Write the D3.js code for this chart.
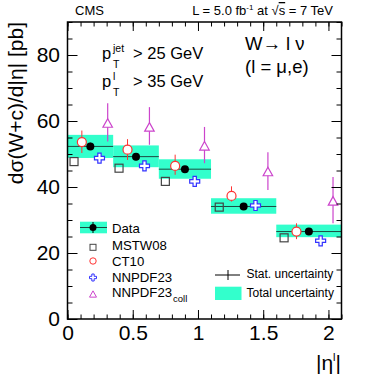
<!DOCTYPE html>
<html>
<head>
<meta charset="utf-8">
<script src="https://cdn.jsdelivr.net/npm/d3@7"></script>
<style>
body { margin: 0; background: #fff; }
text { font-family: "Liberation Sans", Arial, sans-serif; }
</style>
</head>
<body>
<div id="chart"></div>
<script>

// bins in |eta|
var binLo = [0, 0.35, 0.7, 1.1, 1.6];
var binHi = [0.35, 0.7, 1.1, 1.6, 2.1];

// measured
var dataX = [0.175, 0.525, 0.9, 1.35, 1.85];
var dataY = [52.3, 49.2, 45.4, 34.1, 26.5];
var dataStat = [1.1, 1.1, 1.0, 0.9, 0.8];
var totLo = [48.8, 46.0, 42.5, 31.9, 24.8];
var totHi = [55.8, 52.6, 48.4, 36.6, 28.6];

// predictions
var mstwX = [0.05, 0.395, 0.75, 1.163, 1.66];
var mstwY = [47.7, 45.7, 41.7, 33.9, 24.6];
var ct10X = [0.11, 0.46, 0.825, 1.257, 1.755];
var ct10Y = [53.6, 51.3, 46.4, 37.3, 26.5];
var ct10Lo = [50.3, 48.2, 43.7, 35.6, 24.2];
var ct10Hi = [57.1, 54.5, 49.8, 40.2, 29.0];
var nnX = [0.245, 0.59, 0.975, 1.441, 1.94];
var nnY = [48.75, 46.4, 41.7, 34.4, 23.7];
var collX = [0.308, 0.628, 1.05, 1.536, 2.035];
var collY = [59.4, 58.2, 52.5, 44.7, 35.8];
var collLo = [53.8, 52.8, 47.2, 39.1, 29.0];
var collHi = [65.4, 64.2, 58.2, 50.5, 43.0];

var xTicks = [0, 0.5, 1, 1.5, 2];
var yTicks = [0, 20, 40, 60, 80];

var W = 374, H = 379;
var L = 67.5, R = 341.5, T = 22, B = 319;

var teal = "#33ffcc", red = "#ff3333", blue = "#3333ff", mag = "#cc44cc", grey = "#444444";

var svg = d3.select("#chart").append("svg")
    .attr("width", W).attr("height", H);

var x = d3.scaleLinear().domain([0, 2.1]).range([L, R]);
var y = d3.scaleLinear().domain([0, 90]).range([B, T]);

var idx = d3.range(binLo.length);

// total uncertainty bands
svg.selectAll(".band").data(idx).enter().append("rect")
    .attr("x", i => x(binLo[i]))
    .attr("width", i => x(binHi[i]) - x(binLo[i]))
    .attr("y", i => y(totHi[i]))
    .attr("height", i => y(totLo[i]) - y(totHi[i]))
    .attr("fill", teal);

svg.selectAll(".bline").data(idx).enter().append("line")
    .attr("x1", i => x(binLo[i])).attr("x2", i => x(binHi[i]))
    .attr("y1", i => y(dataY[i])).attr("y2", i => y(dataY[i]))
    .attr("stroke", "#1d4a40").attr("stroke-width", 1);

// marker shapes
function crossPath(s) {
    var a = s / 2, b = s / 6;
    return "M" + (-b) + "," + (-a) + "H" + b + "V" + (-b) + "H" + a + "V" + b + "H" + b + "V" + a +
        "H" + (-b) + "V" + b + "H" + (-a) + "V" + (-b) + "H" + (-b) + "Z";
}
function triPath(s) {
    var h = s * 0.9;
    return "M0," + (-h / 2) + "L" + (s / 2) + "," + (h / 2) + "L" + (-s / 2) + "," + (h / 2) + "Z";
}

// MSTW08
svg.selectAll(".mstw").data(idx).enter().append("rect")
    .attr("x", i => x(mstwX[i]) - 4).attr("y", i => y(mstwY[i]) - 4)
    .attr("width", 8).attr("height", 8)
    .attr("fill", "none").attr("stroke", grey).attr("stroke-width", 1.2);

// CT10
svg.selectAll(".cterr").data(idx).enter().append("line")
    .attr("x1", i => x(ct10X[i])).attr("x2", i => x(ct10X[i]))
    .attr("y1", i => y(ct10Hi[i])).attr("y2", i => y(ct10Lo[i]))
    .attr("stroke", red).attr("stroke-width", 1);
svg.selectAll(".ct").data(idx).enter().append("circle")
    .attr("cx", i => x(ct10X[i])).attr("cy", i => y(ct10Y[i])).attr("r", 4.5)
    .attr("fill", "#fff").attr("stroke", red).attr("stroke-width", 1.2);

// NNPDF23
svg.selectAll(".nn").data(idx).enter().append("path")
    .attr("d", crossPath(10))
    .attr("transform", i => "translate(" + x(nnX[i]) + "," + y(nnY[i]) + ")")
    .attr("fill", "#fff").attr("stroke", blue).attr("stroke-width", 1.2);

// NNPDF23 coll
svg.selectAll(".collerr").data(idx).enter().append("line")
    .attr("x1", i => x(collX[i])).attr("x2", i => x(collX[i]))
    .attr("y1", i => y(collHi[i])).attr("y2", i => y(collLo[i]))
    .attr("stroke", mag).attr("stroke-width", 1.2);
svg.selectAll(".coll").data(idx).enter().append("path")
    .attr("d", triPath(9.5))
    .attr("transform", i => "translate(" + x(collX[i]) + "," + y(collY[i]) + ")")
    .attr("fill", "#fff").attr("stroke", mag).attr("stroke-width", 1.2);

// data
svg.selectAll(".derr").data(idx).enter().append("line")
    .attr("x1", i => x(dataX[i])).attr("x2", i => x(dataX[i]))
    .attr("y1", i => y(dataY[i] + dataStat[i])).attr("y2", i => y(dataY[i] - dataStat[i]))
    .attr("stroke", "#000").attr("stroke-width", 1.2);
svg.selectAll(".dpt").data(idx).enter().append("circle")
    .attr("cx", i => x(dataX[i])).attr("cy", i => y(dataY[i])).attr("r", 4)
    .attr("fill", "#000");

// axes, ticks inward on all sides
var xMinor = d3.range(0, 2.101, 0.1).map(v => +v.toFixed(2));
var yMinor = d3.range(0, 90.1, 5);

function axisG(axis, tr) {
    var g = svg.append("g").attr("transform", tr).call(axis);
    g.select(".domain").remove();
    g.selectAll("line").attr("stroke", "#000").attr("stroke-width", 1);
    return g;
}

axisG(d3.axisBottom(x).tickValues(xMinor).tickSize(-4.5).tickFormat(""), "translate(0," + B + ")");
axisG(d3.axisTop(x).tickValues(xMinor).tickSize(-4.5).tickFormat(""), "translate(0," + T + ")");
axisG(d3.axisTop(x).tickValues(xTicks).tickSize(-9).tickFormat(""), "translate(0," + T + ")");
var gx = axisG(d3.axisBottom(x).tickValues(xTicks).tickSize(-9).tickPadding(6).tickFormat(d3.format("")),
    "translate(0," + B + ")");
gx.selectAll("text").attr("font-size", 21).attr("font-family", "Liberation Sans, Arial, sans-serif")
    .attr("fill", "#000");

axisG(d3.axisLeft(y).tickValues(yMinor).tickSize(-5).tickFormat(""), "translate(" + L + ",0)");
axisG(d3.axisRight(y).tickValues(yMinor).tickSize(-5).tickFormat(""), "translate(" + R + ",0)");
axisG(d3.axisRight(y).tickValues(yTicks).tickSize(-10).tickFormat(""), "translate(" + R + ",0)");
var gy = axisG(d3.axisLeft(y).tickValues(yTicks).tickSize(-10).tickPadding(7.5), "translate(" + L + ",0)");
gy.selectAll("text").attr("font-size", 21).attr("font-family", "Liberation Sans, Arial, sans-serif")
    .attr("fill", "#000");

svg.append("rect")
    .attr("x", L).attr("y", T).attr("width", R - L).attr("height", B - T)
    .attr("fill", "none").attr("stroke", "#000").attr("stroke-width", 1.5);

// axis titles
svg.append("text")
    .attr("transform", "translate(23," + T + ") rotate(-90)")
    .attr("text-anchor", "end").attr("font-size", 21)
    .text("dσ(W+c)/d|η| [pb]");

var xt = svg.append("text").attr("x", 341).attr("y", 370)
    .attr("text-anchor", "end").attr("font-size", 21);
xt.append("tspan").text("|η");
xt.append("tspan").attr("font-size", 11).attr("dy", -9).text("l");
xt.append("tspan").attr("dy", 9).text("|");

// header
svg.append("text").attr("x", 75).attr("y", 15).attr("font-size", 13).text("CMS");
var ht = svg.append("text").attr("x", 333).attr("y", 15).attr("text-anchor", "end").attr("font-size", 13);
ht.append("tspan").text("L = 5.0 fb");
ht.append("tspan").attr("font-size", 8).attr("dy", -5).text("-1");
ht.append("tspan").attr("dy", 5).text(" at ");
ht.append("tspan").text("√");
ht.append("tspan").attr("text-decoration", "overline").text("s");
ht.append("tspan").text(" = 7 TeV");

// cut labels
function ptLabel(yb, sup, rest) {
    svg.append("text").attr("x", 102).attr("y", yb).attr("font-size", 16.5).text("p");
    svg.append("text").attr("x", 113).attr("y", yb - 7).attr("font-size", 10.5).text(sup);
    svg.append("text").attr("x", 113).attr("y", yb + 9).attr("font-size", 10.5).text("T");
    svg.append("text").attr("x", 133).attr("y", yb).attr("font-size", 16.5).text(rest);
}
ptLabel(59, "jet", "> 25 GeV");
ptLabel(87, "l", "> 35 GeV");

svg.append("text").attr("x", 245).attr("y", 50).attr("font-size", 18.5).text("W→ l ν");
svg.append("text").attr("x", 245).attr("y", 73).attr("font-size", 18.5).text("(l = μ,e)");

// legend
var lx = 93;
svg.append("rect").attr("x", 80).attr("y", 221.7).attr("width", 27).attr("height", 11.6).attr("fill", teal);
svg.append("line").attr("x1", 80).attr("x2", 107).attr("y1", 227.5).attr("y2", 227.5)
    .attr("stroke", "#1d4a40");
svg.append("line").attr("x1", lx).attr("x2", lx).attr("y1", 222).attr("y2", 233).attr("stroke", "#000");
svg.append("circle").attr("cx", lx).attr("cy", 227.5).attr("r", 3.5).attr("fill", "#000");

svg.append("rect").attr("x", lx - 3).attr("y", 244.3).attr("width", 6).attr("height", 6)
    .attr("fill", "none").attr("stroke", grey);
svg.append("circle").attr("cx", lx).attr("cy", 261).attr("r", 3.2)
    .attr("fill", "none").attr("stroke", red);
svg.append("path").attr("d", crossPath(7)).attr("transform", "translate(" + lx + ",277.5)")
    .attr("fill", "none").attr("stroke", blue);
svg.append("path").attr("d", triPath(7)).attr("transform", "translate(" + lx + ",294)")
    .attr("fill", "none").attr("stroke", mag);

var legNames = ["Data", "MSTW08", "CT10", "NNPDF23", "NNPDF23"];
var legBase = [233.3, 250, 265.7, 282, 296.5];
svg.selectAll(".legt").data(legNames).enter().append("text")
    .attr("x", 112).attr("y", (d, i) => legBase[i]).attr("font-size", 13.2).text(d => d);
svg.append("text").attr("x", 173).attr("y", 302).attr("font-size", 9.5).text("coll");

svg.append("line").attr("x1", 215).attr("x2", 240).attr("y1", 275).attr("y2", 275).attr("stroke", "#000");
svg.append("line").attr("x1", 228).attr("x2", 228).attr("y1", 270).attr("y2", 280).attr("stroke", "#000");
svg.append("text").attr("x", 246.5).attr("y", 278.3).attr("font-size", 12).text("Stat. uncertainty");
svg.append("rect").attr("x", 215).attr("y", 286.7).attr("width", 26.5).attr("height", 13.3).attr("fill", teal);
svg.append("text").attr("x", 246.5).attr("y", 297.3).attr("font-size", 12).text("Total uncertainty");

</script>
</body>
</html>
